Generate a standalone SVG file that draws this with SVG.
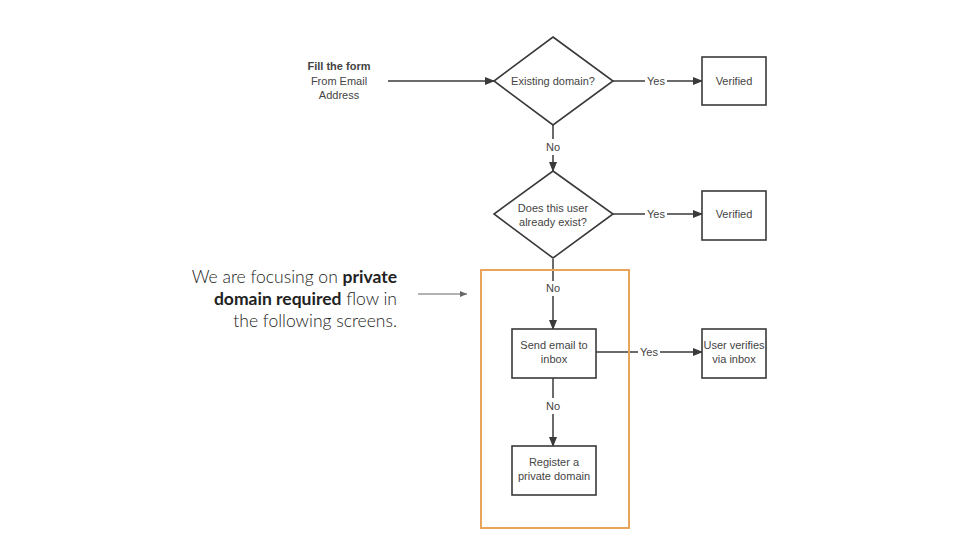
<svg xmlns="http://www.w3.org/2000/svg" width="960" height="540" viewBox="0 0 960 540">
<style>
.shape{fill:#fff;stroke:#3a3a3a;stroke-width:1.6}
.line{fill:none;stroke:#3a3a3a;stroke-width:1.5}
.t{font-family:"Liberation Sans",Arial,sans-serif;font-size:11px;fill:#444;text-anchor:middle}
.lbl{font-family:"Liberation Sans",Arial,sans-serif;font-size:11px;fill:#444;text-anchor:middle}
.ann{font-family:Lato,"Open Sans",sans-serif;font-size:17.5px;fill:#222;text-anchor:end;font-weight:300}
.ann .b{font-weight:700}
</style>
<defs>
<marker id="ah" markerWidth="10" markerHeight="8" refX="9" refY="4" orient="auto" markerUnits="userSpaceOnUse">
<path d="M0,0 L10,4 L0,8 Z" fill="#3a3a3a"/>
</marker>
<marker id="ah2" markerWidth="7" markerHeight="6" refX="7" refY="3" orient="auto" markerUnits="userSpaceOnUse">
<path d="M0,0 L7,3 L0,6 Z" fill="#666"/>
</marker>
</defs>
<rect width="960" height="540" fill="#fff"/>
<g id="connectors">
<line class="line" x1="388" y1="81" x2="494" y2="81" marker-end="url(#ah)"/>
<line class="line" x1="613" y1="81" x2="645" y2="81"/>
<line class="line" x1="667" y1="81" x2="702" y2="81" marker-end="url(#ah)"/>
<line class="line" x1="553" y1="125" x2="553" y2="139"/>
<line class="line" x1="553" y1="155" x2="553" y2="171" marker-end="url(#ah)"/>
<line class="line" x1="613" y1="214" x2="645" y2="214"/>
<line class="line" x1="667" y1="214" x2="702" y2="214" marker-end="url(#ah)"/>
<line class="line" x1="553" y1="259" x2="553" y2="281"/>
<line class="line" x1="553" y1="296" x2="553" y2="329" marker-end="url(#ah)"/>
<line class="line" x1="596" y1="352" x2="638" y2="352"/>
<line class="line" x1="660" y1="352" x2="702" y2="352" marker-end="url(#ah)"/>
<line class="line" x1="553" y1="378" x2="553" y2="398"/>
<line class="line" x1="553" y1="414" x2="553" y2="446" marker-end="url(#ah)"/>
<text class="lbl" x="656" y="85">Yes</text>
<text class="lbl" x="553" y="151">No</text>
<text class="lbl" x="656" y="218">Yes</text>
<text class="lbl" x="553" y="292">No</text>
<text class="lbl" x="649" y="356">Yes</text>
<text class="lbl" x="553" y="410">No</text>
<line x1="418" y1="294" x2="467" y2="294" stroke="#666" stroke-width="1" marker-end="url(#ah2)"/>
</g>
<g id="start">
<text class="t" x="339" y="70" font-weight="bold">Fill the form</text>
<text class="t" x="339" y="85">From Email</text>
<text class="t" x="339" y="99">Address</text>
</g>
<g id="existing-domain">
<polygon class="shape" points="553,37 613,81 553,125 494,81"/>
<text class="t" x="553" y="85">Existing domain?</text>
</g>
<g id="verified-1">
<rect class="shape" x="702" y="57" width="64" height="48"/>
<text class="t" x="734" y="85">Verified</text>
</g>
<g id="user-exists">
<polygon class="shape" points="553,171 613,214 553,258 494,214"/>
<text class="t" x="553" y="212">Does this user</text>
<text class="t" x="553" y="226">already exist?</text>
</g>
<g id="verified-2">
<rect class="shape" x="702" y="191" width="64" height="49"/>
<text class="t" x="734" y="218">Verified</text>
</g>
<g id="focus-box">
<rect x="481" y="270" width="148" height="258" fill="none" stroke="#e8a45a" stroke-width="2"/>
</g>
<g id="send-email">
<rect class="shape" x="512" y="329" width="84" height="49"/>
<text class="t" x="554" y="349">Send email to</text>
<text class="t" x="554" y="363">inbox</text>
</g>
<g id="user-verifies">
<rect class="shape" x="702" y="329" width="64" height="49"/>
<text class="t" x="734" y="349">User verifies</text>
<text class="t" x="734" y="363">via inbox</text>
</g>
<g id="register">
<rect class="shape" x="512" y="446" width="84" height="49"/>
<text class="t" x="554" y="466">Register a</text>
<text class="t" x="554" y="480">private domain</text>
</g>
<g id="annotation">
<text class="ann" x="397" y="283">We are focusing on <tspan class="b">private</tspan></text>
<text class="ann" x="397" y="305"><tspan class="b">domain required</tspan> flow in</text>
<text class="ann" x="397" y="327">the following screens.</text>
</g>
</svg>
